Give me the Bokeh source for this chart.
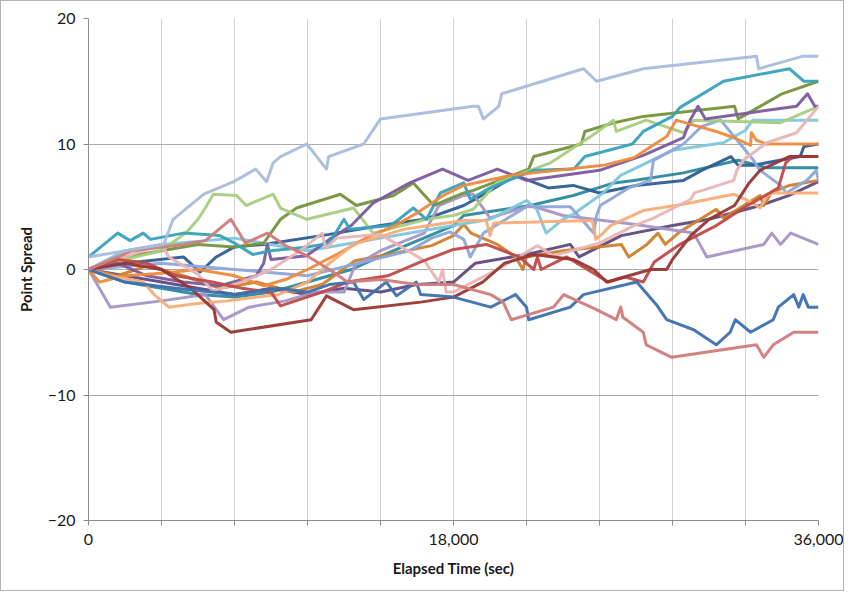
from bokeh.plotting import figure
from bokeh.models import Range1d, FixedTicker
from bokeh.embed import file_html
from bokeh.resources import INLINE

# ---------------- data (elapsed seconds, point spread) ----------------
steel_t = [0, 3708, 4176, 5688, 7164, 8244, 8784, 9108, 9468, 10764, 11736, 11844, 13572, 14400, 18972, 19224, 19476, 20232, 20376, 24408, 25056, 27360, 32940, 33048, 35244, 36000]
steel_y = [1, 2, 4, 6, 7, 8, 7, 8.5, 9, 10, 8, 9, 10, 12, 13, 13, 12, 13, 14, 16, 15, 16, 17, 16, 17, 17]

teal_t = [0, 1440, 2052, 2700, 3060, 4680, 6480, 7200, 8100, 9000, 10800, 11880, 12600, 12888, 14904, 16020, 16668, 17352, 18504, 18828, 19800, 21960, 23940, 24480, 26820, 27360, 28800, 29160, 31320, 34560, 35280, 36000]
teal_y = [1, 2.9, 2.3, 2.9, 2.4, 2.9, 2.7, 2.1, 1.2, 1.5, 1.8, 2.1, 4, 3.2, 3.5, 4.9, 4, 6.1, 6.9, 5.6, 6.5, 7.9, 8, 9, 10, 11, 12.2, 12.9, 15, 16, 15, 15]

olive_t = [0, 1800, 3600, 5400, 7200, 8640, 9468, 10260, 12420, 13212, 15048, 16020, 17028, 18504, 18972, 21708, 21960, 24300, 24480, 25920, 27360, 31860, 32040, 33120, 33660, 34200, 36000]
olive_y = [0, 1, 1.5, 2, 1.8, 2.1, 4, 4.9, 6, 5.1, 5.9, 6.9, 5.1, 6.1, 6.3, 8, 9, 10, 11, 11.7, 12.2, 13, 12, 13, 13.5, 14, 15]

lgreen_t = [0, 1800, 3600, 4860, 5400, 5760, 6156, 7308, 7776, 9108, 9468, 10764, 13068, 14040, 16668, 18000, 18972, 20124, 22788, 24768, 25884, 26028, 27504, 29340, 29844, 34128, 36000]
lgreen_y = [0, 0.8, 1.5, 3, 4, 4.9, 6, 5.9, 5.1, 6, 4.9, 4, 4.9, 2.9, 4, 4.3, 4.8, 6.9, 8.5, 10.6, 11.9, 11, 11.9, 10.9, 11.9, 11.7, 13]

purple_t = [0, 1440, 2880, 4680, 6480, 8280, 8640, 8820, 9000, 10764, 11880, 12960, 14040, 15840, 17460, 18720, 20160, 21600, 25200, 27360, 29340, 29700, 30060, 30420, 34920, 35460, 35820, 36000]
purple_y = [0, 0.5, -0.5, -1, -1.3, -0.5, 0.5, 2, 0.8, 1.1, 2.4, 3.5, 5.3, 6.9, 8, 7.1, 8, 7.1, 7.9, 9.1, 10.5, 12, 13, 12, 13, 14, 13, 13]

pink_t = [0, 1800, 3600, 3960, 5400, 6120, 7560, 9000, 10440, 11520, 11700, 12240, 14400, 16560, 17280, 17460, 17640, 18000, 20160, 22140, 22932, 25200, 26892, 27864, 29700, 29880, 31824, 31968, 32292, 33444, 34920, 36000]
pink_y = [0, 1, 2, 1, -0.4, -1.7, -1, 0, 1.5, 2.9, 1.7, 2.5, 2.8, 0.7, -1, 0, -1.8, -1.8, 0, 1.9, 1.1, 2.1, 3.5, 4.1, 5.6, 6.1, 7.1, 7.9, 8.7, 10.1, 10.9, 13]

aqua_t = [0, 1800, 3600, 7200, 9000, 10800, 12600, 14400, 16200, 18000, 19800, 21600, 22104, 22572, 23400, 23904, 25380, 26244, 28800, 31320, 32400, 32760, 36000]
aqua_y = [0, 1.5, 2, 2.5, 2, 1.5, 2, 2.5, 3, 3.5, 4, 5.5, 4.8, 2.9, 4, 4.4, 6.1, 7.5, 9.5, 10.1, 11.1, 11.9, 11.9]

orange_t = [0, 540, 1800, 3600, 5400, 7200, 8640, 9720, 10800, 12240, 13680, 15120, 16200, 17496, 18504, 20808, 25380, 26892, 28512, 28980, 29844, 30960, 31824, 32652, 32688, 32940, 33444, 36000]
orange_y = [0, -1, -0.5, -0.3, 0, -0.5, -1.3, -0.8, 0, 1.2, 2.5, 3.5, 4.5, 5.9, 6.7, 7.5, 8.3, 8.9, 10.6, 11.9, 11.5, 11, 10.5, 9.9, 10.9, 10.3, 10, 10]

navy_t = [0, 1800, 4680, 5508, 6300, 7200, 8640, 11880, 14400, 16560, 18504, 19620, 21060, 22680, 23904, 25200, 27000, 29340, 30240, 31680, 32040, 32760, 35100, 35280, 36000]
navy_y = [0, 0.5, 1, -0.2, 1, 1.8, 2, 2.8, 3.5, 4, 5.1, 6.1, 7.5, 6.5, 6.7, 6.1, 6.7, 7.1, 7.9, 9, 8.3, 8.3, 9, 9.8, 10]

dteal_t = [0, 1800, 3600, 5400, 7200, 9000, 10800, 12960, 14760, 16380, 18000, 18504, 21780, 23904, 25920, 26892, 29340, 32040, 33480, 36000]
dteal_y = [0, -1, -1.5, -2, -2.2, -1.8, -1, 0, 1.3, 2.4, 3.5, 4.3, 5.1, 5.9, 6.9, 7.1, 7.7, 8.7, 8.1, 8.1]

peri_t = [0, 3600, 7200, 10800, 13320, 15840, 16920, 17820, 18504, 18828, 19476, 21600, 23760, 24912, 25056, 25236, 26640, 27720, 27864, 29340, 30240, 31176, 32796, 33120, 34128, 34416, 35424, 35892, 36000]
peri_y = [0, 0.5, 0, -0.5, 0.5, 1.5, 2.5, 3, 2.4, 1, 2.9, 5, 5, 2.9, 4.3, 5.1, 6.5, 7.1, 8.7, 10, 11.4, 11.9, 8.7, 7.9, 6.7, 6.1, 7.1, 7.9, 7.1]

brown_t = [0, 1440, 2880, 4680, 6480, 8280, 10080, 11520, 13140, 15120, 16920, 18000, 18504, 18864, 20160, 21060, 21420, 21600, 23400, 26280, 26640, 27540, 28080, 28440, 29160, 30960, 31320, 33120, 33300, 33660, 34560, 36000]
brown_y = [0, -0.5, 0.3, -0.5, -1.5, -1, -1.8, -1.2, 0.7, 1.3, 1.9, 2.7, 3.6, 2.9, 2, 1, 0, 1, 1.5, 2, 1, 2, 2.9, 2, 3, 4.8, 4.1, 5.9, 5.1, 6.1, 6.7, 7.1]

salmon_t = [0, 1080, 2700, 3240, 3960, 5400, 6840, 9360, 10800, 11880, 13068, 15552, 18504, 19620, 19800, 19980, 24840, 25020, 25380, 25740, 27360, 29340, 31824, 32760, 33120, 33480, 33768, 36000]
salmon_y = [0, -0.5, -1, -2, -3, -2.7, -2.5, -2, -1, 0.5, 2, 3.2, 3.9, 3.9, 2.7, 3.7, 3.9, 2.4, 2.9, 3.5, 4.7, 5.2, 6, 5.3, 4.9, 5.9, 6.1, 6.1]

lav_t = [0, 1080, 3600, 5760, 6660, 7920, 9720, 11160, 12600, 13140, 14400, 16560, 17280, 18504, 18972, 19800, 21780, 23400, 26892, 29844, 30492, 33300, 33696, 34128, 34632, 36000]
lav_y = [0, -3, -2.5, -2, -4, -3, -2.5, -1.8, -1.8, 0.3, 1.5, 2.9, 5.1, 5.9, 6, 4.1, 5.1, 4.3, 3.6, 2.9, 1, 2, 2.9, 2, 2.9, 2]

blue_t = [0, 1800, 4320, 7200, 9360, 10800, 11880, 13068, 13572, 14688, 15192, 16164, 16380, 18000, 19836, 21060, 21600, 21708, 23760, 24408, 27036, 28008, 28512, 29844, 30960, 31644, 31896, 32652, 33768, 34020, 34776, 35028, 35244, 35496, 36000]
blue_y = [0, -1, -1.5, -2, -1.5, -1.8, -1.2, -1, -2.4, -1, -2.1, -1, -2, -2.2, -3, -2, -3, -4, -3, -2, -1, -2.8, -4, -4.8, -6, -5, -4, -5, -4, -3, -2, -3, -2, -3, -3]

rose_t = [0, 2160, 4680, 5760, 7020, 7740, 8820, 9720, 10764, 11880, 12780, 14400, 16200, 18000, 19836, 20448, 20844, 22932, 23436, 25056, 26028, 26244, 26352, 27360, 27504, 28764, 32940, 33300, 33768, 34776, 36000]
rose_y = [0, 1.5, 2, 2.3, 4, 2.1, 2.9, 1.9, 1.1, 0, -1, -0.8, -1.2, -1.2, -2, -2.6, -4, -3, -2, -3.2, -4, -3, -3.8, -5, -6, -7, -6, -7, -6, -5, -5]

red_t = [0, 1440, 2880, 4320, 6120, 7560, 9000, 9468, 11520, 12780, 14760, 16380, 18000, 19620, 21240, 21960, 22140, 22320, 23580, 25632, 26460, 27360, 27900, 29160, 30960, 32400, 33480, 34020, 34380, 34740, 36000]
red_y = [0, 0.8, 0.5, -0.5, -1, -1.5, -1.8, -2.9, -1.8, -1, -0.5, 0.6, 1.6, 2, 1, 0, 1, 0, 1, -1, -0.6, -1, 0.6, 2, 3.5, 5, 6, 6.5, 8.5, 9, 9]

dred_t = [0, 1800, 3600, 5040, 6192, 6300, 7020, 10980, 11736, 13068, 16380, 18000, 19440, 20520, 21960, 23904, 24912, 25560, 27720, 28512, 28800, 29700, 30600, 31860, 32580, 33120, 34560, 36000]
dred_y = [0, 0.5, 0, -1.5, -3.2, -4.2, -5, -4, -2.1, -3.2, -2.6, -2.2, -1, 0.5, 1.2, 0.8, 0, -1, 0, 0, 0.8, 2.7, 4, 5.1, 6.9, 7.9, 9, 9]

dpurple_t = [0, 1800, 3600, 5400, 7200, 9000, 10800, 12600, 14400, 16200, 18000, 19080, 21600, 23760, 24192, 26280, 28800, 30600, 33120, 34560, 36000]
dpurple_y = [0, -0.5, -1, -1.5, -2, -1.5, -2, -1.5, -1.8, -1.2, -1, 0.5, 1.2, 2, 1, 2.7, 3.5, 4, 5.1, 5.9, 7]

series = [
    (dteal_t, dteal_y, "#2C8A9C"),
    (navy_t, navy_y, "#2E5D92"),
    (dpurple_t, dpurple_y, "#5F4A80"),
    (brown_t, brown_y, "#D07D2C"),
    (lav_t, lav_y, "#A595C6"),
    (aqua_t, aqua_y, "#80C6DD"),
    (peri_t, peri_y, "#8DA7D8"),
    (olive_t, olive_y, "#76933C"),
    (lgreen_t, lgreen_y, "#A6CD7E"),
    (purple_t, purple_y, "#7A5A9E"),
    (teal_t, teal_y, "#36A2BA"),
    (orange_t, orange_y, "#EE8A3C"),
    (salmon_t, salmon_y, "#F7AD78"),
    (pink_t, pink_y, "#E8B5B4"),
    (red_t, red_y, "#BF4A47"),
    (dred_t, dred_y, "#993634"),
    (blue_t, blue_y, "#3C70B0"),
    (rose_t, rose_y, "#D07B7A"),
    (steel_t, steel_y, "#A8BCDD"),
]

x_ticks = [0, 3600, 7200, 10800, 14400, 18000, 21600, 25200, 28800, 32400, 36000]
x_labels = {0: "0", 18000: "18,000", 36000: "36,000"}
y_ticks = [-20, -10, 0, 10, 20]

p = figure(width=844, height=591, output_backend="svg", toolbar_location=None,
           x_range=Range1d(0, 36000), y_range=Range1d(-20, 20),
           min_border_left=87, min_border_right=27, min_border_top=17, min_border_bottom=72)
p.styles = {"border": "1px solid #b4b4b4"}
p.outline_line_color = None
p.background_fill_color = "white"

for t, y, c in series:
    p.line(t, y, line_color=c, line_width=3, line_alpha=0.95, line_join="round")

xt = FixedTicker(ticks=x_ticks)
yt = FixedTicker(ticks=y_ticks)
p.xaxis.ticker = xt
p.yaxis.ticker = yt
p.xgrid.ticker = xt
p.ygrid.ticker = yt
p.xgrid.grid_line_color = "#D0D0D0"
p.ygrid.grid_line_color = "#ABABAB"
p.xgrid.grid_line_width = 1
p.ygrid.grid_line_width = 1

p.xaxis.major_label_overrides = {k: x_labels.get(k, "") for k in x_ticks}

for ax in (p.xaxis[0], p.yaxis[0]):
    ax.axis_line_color = "#8C8C8C"
    ax.major_tick_line_color = "#8C8C8C"
    ax.major_tick_in = 0
    ax.major_tick_out = 5
    ax.minor_tick_line_color = None
    ax.major_label_text_font = "Lato"
    ax.major_label_text_font_size = "16px"
    ax.major_label_text_color = "#1a1a1a"
    ax.axis_label_text_font = "Lato"
    ax.axis_label_text_font_size = "15px"
    ax.axis_label_text_font_style = "bold"
    ax.axis_label_text_color = "#1a1a1a"

p.xaxis.axis_label = "Elapsed Time (sec)"
p.yaxis.axis_label = "Point Spread"
p.xaxis.major_label_standoff = 8
p.yaxis.major_label_standoff = 8
p.xaxis.axis_label_standoff = 11
p.yaxis.axis_label_standoff = 10

open("out.html", "w").write(file_html(p, INLINE))
